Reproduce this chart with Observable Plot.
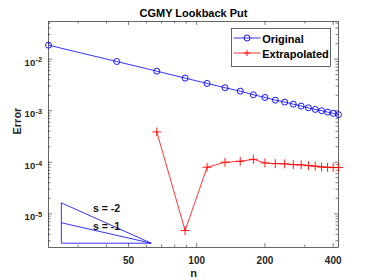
<!DOCTYPE html>
<html>
<head>
<meta charset="utf-8">
<script src="https://cdn.jsdelivr.net/npm/d3@7"></script>
<script src="https://cdn.jsdelivr.net/npm/@observablehq/plot@0.6"></script>
<style>
  body { margin: 0; background: #fff; }
  #wrap { position: relative; width: 374px; height: 280px; font-family: "Liberation Sans", Arial, sans-serif; }
  #legend { position: absolute; left: 230.5px; top: 27.5px; }
</style>
</head>
<body>
<div id="wrap"></div>
<script>
// ---- data ----
const n = [22.2, 44.4, 66.7, 88.9, 111.1, 133.3, 155.6, 177.8, 200, 222.2,
           244.4, 266.7, 288.9, 311.1, 333.3, 355.6, 377.8, 400, 422.2];
const original = [0.0187, 0.0090, 0.00585, 0.00429, 0.00338, 0.00279, 0.00240, 0.00204,
                  0.00181, 0.00160, 0.00147, 0.00134, 0.00123, 0.00114, 0.00106, 0.00100,
                  0.00094, 0.00089, 0.00084];
const extrapolated = [null, null, 3.88e-4, 4.74e-6, 8.0e-5, 1.0e-4, 1.045e-4, 1.14e-4,
                      9.7e-5, 9.4e-5, 9.3e-5, 9.0e-5, 8.9e-5, 8.6e-5, 8.4e-5, 8.1e-5,
                      8.0e-5, 7.9e-5, 7.9e-5];
const seriesNames = ["Original", "Extrapolated"];
const xMajor = [50, 100, 200, 400];
const xMinor = [30, 40, 60, 70, 80, 90, 300];
const yMajor = [1e-2, 1e-3, 1e-4, 1e-5];
const yExp = [-2, -3, -4, -5];
const yMinor = [3e-6, 4e-6, 5e-6, 6e-6, 7e-6, 8e-6, 9e-6,
                2e-5, 3e-5, 4e-5, 5e-5, 6e-5, 7e-5, 8e-5, 9e-5,
                2e-4, 3e-4, 4e-4, 5e-4, 6e-4, 7e-4, 8e-4, 9e-4,
                2e-3, 3e-3, 4e-3, 5e-3, 6e-3, 7e-3, 8e-3, 9e-3,
                2e-2, 3e-2, 4e-2, 5e-2];
const triN = [25.3, 63];
const triBase = 2.69e-6, triTop1 = 6.7e-6, triTop2 = 1.63e-5;
const slopeLabels = ["s = -2", "s = -1"];
const slopeLabelN = [40, 40];
const slopeLabelE = [1.08e-5, 4.85e-6];
const title = "CGMY Lookback Put";

// ---- build tables ----
const origData = n.map((x, i) => ({n: x, e: original[i]}));
const extData = n.map((x, i) => ({n: x, e: extrapolated[i]})).filter(d => d.e != null);
const triLinks = [
  {x1: triN[0], y1: triBase, x2: triN[1], y2: triBase},
  {x1: triN[0], y1: triBase, x2: triN[0], y2: triTop2},
  {x1: triN[0], y1: triTop2, x2: triN[1], y2: triBase},
  {x1: triN[0], y1: triTop1, x2: triN[1], y2: triBase}
];
const slopeData = slopeLabels.map((t, i) => ({t, n: slopeLabelN[i], e: slopeLabelE[i]}));
const yLab = yMajor.map((v, i) => ({v, exp: yExp[i]}));

const W = 374, H = 280, mT = 21, mL = 48, mR = 36, mB = 33;
const PH = H - mT - mB, PW = W - mL - mR;
const axisColor = "#262626";
const bold = {fontWeight: "bold", fill: axisColor};

const chart = Plot.plot({
  width: W, height: H,
  marginTop: mT, marginLeft: mL, marginRight: mR, marginBottom: mB,
  style: {background: "white", fontFamily: "'Liberation Sans', Arial, sans-serif", overflow: "visible"},
  x: {type: "log", domain: [22.2, 422.2], axis: null},
  y: {type: "log", domain: [2.22e-6, 0.0538], axis: null},
  marks: [
    // ticks (inward, mirrored)
    Plot.tickX(xMajor, {x: d => d, insetTop: PH - 4, stroke: axisColor, strokeWidth: 0.6}),
    Plot.tickX(xMajor, {x: d => d, insetBottom: PH - 4, stroke: axisColor, strokeWidth: 0.6}),
    Plot.tickX(xMinor, {x: d => d, insetTop: PH - 2.5, stroke: axisColor, strokeWidth: 0.6}),
    Plot.tickX(xMinor, {x: d => d, insetBottom: PH - 2.5, stroke: axisColor, strokeWidth: 0.6}),
    Plot.tickY(yMajor, {y: d => d, insetRight: PW - 4, stroke: axisColor, strokeWidth: 0.6}),
    Plot.tickY(yMajor, {y: d => d, insetLeft: PW - 4, stroke: axisColor, strokeWidth: 0.6}),
    Plot.tickY(yMinor, {y: d => d, insetRight: PW - 2.5, stroke: axisColor, strokeWidth: 0.6}),
    Plot.tickY(yMinor, {y: d => d, insetLeft: PW - 2.5, stroke: axisColor, strokeWidth: 0.6}),
    Plot.frame({stroke: axisColor, strokeWidth: 0.7}),
    // slope triangle
    Plot.link(triLinks, {x1: "x1", y1: "y1", x2: "x2", y2: "y2", stroke: "blue", strokeWidth: 0.8}),
    Plot.text(slopeData, {x: "n", y: "e", text: "t", lineAnchor: "bottom", fontSize: 10.5, fontWeight: "bold", fill: "#111"}),
    // series
    Plot.line(origData, {x: "n", y: "e", stroke: "blue", strokeWidth: 0.8}),
    Plot.dot(origData, {x: "n", y: "e", r: 3, stroke: "blue", strokeWidth: 0.9, fill: "none"}),
    Plot.line(extData, {x: "n", y: "e", stroke: "red", strokeWidth: 0.8}),
    Plot.dot(extData, {x: "n", y: "e", r: 3, symbol: "plus", stroke: "red", strokeWidth: 0.9, fill: "none"}),
    // tick labels
    Plot.text(xMajor, {x: d => d, text: d => String(d), frameAnchor: "bottom", dy: 16, lineAnchor: "bottom", fontSize: 10, ...bold}),
    Plot.text(yLab, {y: "v", text: () => "10", frameAnchor: "left", textAnchor: "end", dx: -13.3, dy: 6.6, lineAnchor: "bottom", fontSize: 9.5, ...bold}),
    Plot.text(yLab, {y: "v", text: d => String(d.exp), frameAnchor: "left", textAnchor: "start", dx: -13, dy: 3.3, lineAnchor: "bottom", fontSize: 7.5, ...bold}),
    // titles
    Plot.text([title], {text: d => d, frameAnchor: "top", dy: -4.7, lineAnchor: "bottom", fontSize: 11, fontWeight: "bold", fill: "#000"}),
    Plot.text(["Error"], {text: d => d, frameAnchor: "left", rotate: -90, dx: -27.5, lineAnchor: "bottom", fontSize: 11, ...bold}),
    Plot.text(["n"], {text: d => d, frameAnchor: "bottom", dy: 29.7, lineAnchor: "bottom", fontSize: 11, ...bold})
  ]
});
const wrap = document.getElementById("wrap");
wrap.appendChild(chart);

// ---- legend ----
const ns = "http://www.w3.org/2000/svg";
const lg = document.createElementNS(ns, "svg");
lg.setAttribute("id", "legend");
lg.setAttribute("width", 101);
lg.setAttribute("height", 40);
const colors = ["blue", "red"];
let html = `<rect x="0.5" y="0.5" width="99" height="38" fill="white" stroke="${axisColor}" stroke-width="0.7"/>`;
seriesNames.forEach((name, i) => {
  const cy = 10 + i * 15;
  html += `<line x1="2.5" x2="29.5" y1="${cy}" y2="${cy}" stroke="${colors[i]}" stroke-width="0.8"/>`;
  if (i === 0) html += `<circle cx="16" cy="${cy}" r="3" fill="none" stroke="blue" stroke-width="0.9"/>`;
  else html += `<path d="M13,${cy}H19M16,${cy - 3}V${cy + 3}" stroke="red" stroke-width="0.9"/>`;
  html += `<text x="31.2" y="${cy + 4.5}" font-family="'Liberation Sans', Arial, sans-serif" font-size="11" font-weight="bold" fill="#000">${name}</text>`;
});
lg.innerHTML = html;
wrap.appendChild(lg);
</script>
</body>
</html>
